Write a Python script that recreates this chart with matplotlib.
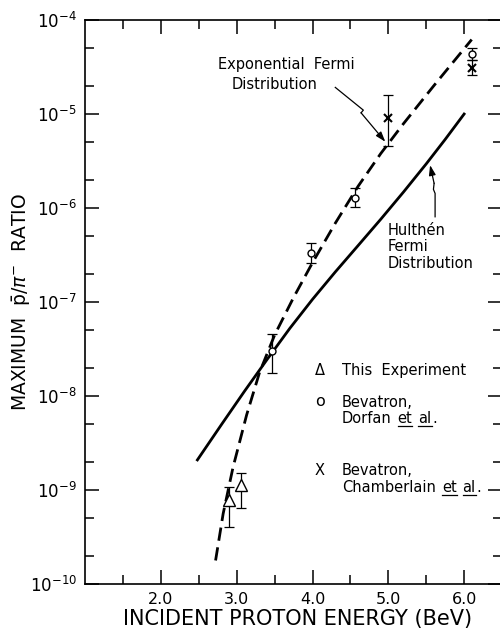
import matplotlib
matplotlib.use('Agg')
import matplotlib.pyplot as plt
from matplotlib.lines import Line2D
from matplotlib.patches import FancyArrowPatch
from matplotlib.font_manager import FontProperties
from matplotlib.ticker import LogLocator, NullFormatter

# Exponential Fermi distribution prediction (dashed)
expo_energy = [2.72, 2.82, 2.95, 3.13, 3.30, 3.50, 3.75, 4.00, 4.30, 4.60, 4.90, 5.20, 5.60, 6.10]
expo_ratio = [1.78e-10, 5.6e-10, 1.74e-9, 6.3e-9, 1.78e-8, 4.47e-8, 1.12e-7,
              2.63e-7, 6.9e-7, 1.7e-6, 3.8e-6, 7.9e-6, 2.0e-5, 6.2e-5]

# Hulthen Fermi distribution prediction (solid)
hul_energy = [2.48, 2.80, 3.10, 3.40, 3.70, 4.00, 4.30, 4.60, 4.90, 5.20, 5.50, 5.75, 6.00]
hul_ratio = [2.09e-9, 5.0e-9, 1.12e-8, 2.45e-8, 5.25e-8, 1.07e-7, 2.09e-7,
             3.98e-7, 7.6e-7, 1.48e-6, 2.95e-6, 5.37e-6, 1.0e-5]

# measured points with error bar limits
this_energy = [2.90, 3.06]
this_ratio = [7.8e-10, 1.13e-9]
this_lo = [4.0e-10, 6.4e-10]
this_hi = [1.08e-9, 1.53e-9]

dorfan_energy = [3.46, 3.98, 4.56, 6.10]
dorfan_ratio = [3.0e-8, 3.3e-7, 1.29e-6, 4.4e-5]
dorfan_lo = [1.77e-8, 2.6e-7, 1.03e-6, 3.8e-5]
dorfan_hi = [4.6e-8, 4.2e-7, 1.64e-6, 5.0e-5]

chamb_energy = [5.00, 6.10]
chamb_ratio = [9.0e-6, 3.06e-5]
chamb_lo = [4.55e-6, 2.6e-5]
chamb_hi = [1.6e-5, 3.8e-5]

xtick_vals = [2.0, 3.0, 4.0, 5.0, 6.0]
xtick_labels = ['2.0', '3.0', '4.0', '5.0', '6.0']
xminor_vals = [1.5, 2.5, 3.5, 4.5, 5.5]

plt.rcParams['font.family'] = ['DejaVu Sans']

fig = plt.figure(figsize=(5, 6.3), dpi=100)
ax = fig.add_axes([0.1705, 0.073, 0.8335, 0.8952])

ax.plot(expo_energy, expo_ratio, color='k', lw=2.0, dashes=(4.8, 2.4))
ax.plot(hul_energy, hul_ratio, color='k', lw=2.0)


def points(energy, ratio, lo, hi, marker, ms, mew):
    yerr = [[r - l for r, l in zip(ratio, lo)], [h - r for r, h in zip(ratio, hi)]]
    ax.errorbar(energy, ratio, yerr=yerr, fmt='none', ecolor='k',
                elinewidth=0.9, capsize=3.5, capthick=0.9, zorder=3)
    ax.plot(energy, ratio, linestyle='none', marker=marker, ms=ms, mfc='white',
            mec='k', mew=mew, zorder=4)


points(this_energy, this_ratio, this_lo, this_hi, '^', 8, 1.0)
points(dorfan_energy, dorfan_ratio, dorfan_lo, dorfan_hi, 'o', 5, 1.0)
points(chamb_energy, chamb_ratio, chamb_lo, chamb_hi, 'x', 5.5, 1.5)

ax.set_xlim(1.0, 6.5)
ax.set_yscale('log')
ax.set_ylim(1e-10, 1e-4)

ax.set_xticks(xtick_vals)
ax.set_xticklabels(xtick_labels)
ax.set_xticks(xminor_vals, minor=True)
ax.yaxis.set_major_locator(LogLocator(base=10, numticks=12))
ax.yaxis.set_minor_locator(LogLocator(base=10, subs=(2.0, 5.0), numticks=12))
ax.yaxis.set_minor_formatter(NullFormatter())

ax.tick_params(which='both', direction='in', top=True, right=True, width=1.1, color='k')
ax.tick_params(which='major', length=10)
ax.tick_params(which='minor', length=6.5)
ax.tick_params(axis='x', labelsize=11.5, pad=6)
ax.tick_params(axis='y', labelsize=12, pad=6)
for sp in ax.spines.values():
    sp.set_linewidth(1.2)

ax.set_xlabel('INCIDENT PROTON ENERGY (BeV)', fontsize=15)
ax.xaxis.set_label_coords(0.51, -0.045)
ax.set_ylabel(r'MAXIMUM  $\bar{\mathrm{p}}/\pi^{-}$  RATIO', fontsize=13.5)
ax.yaxis.set_label_coords(-0.125, 0.5)


def pointer(xs, ys):
    # thin leader line ending in a narrow arrowhead
    ax.plot(xs[:-1], ys[:-1], color='k', lw=0.9)
    ax.add_patch(FancyArrowPatch((xs[-2], ys[-2]), (xs[-1], ys[-1]),
                                 arrowstyle='-|>,head_length=6,head_width=2',
                                 color='k', lw=0.9, shrinkA=0, shrinkB=0))


# curve labels with their pointer arrows
ax.text(2.75, 3.4e-5, 'Exponential  Fermi', fontsize=10.5, ha='left', va='center')
ax.text(2.93, 2.08e-5, 'Distribution', fontsize=10.5, ha='left', va='center')
pointer([4.30, 4.67, 4.64, 4.96], [1.92e-5, 1.10e-5, 1.03e-5, 5.07e-6])

ax.text(4.99, 3.85e-7, 'Hulthén\nFermi\nDistribution', fontsize=10.5,
        ha='left', va='center', linespacing=1.1)
pointer([5.617, 5.617, 5.595, 5.604, 5.551], [8.07e-7, 1.43e-6, 1.58e-6, 1.83e-6, 2.86e-6])

# key to the data symbols, with underlined "et al."
renderer = fig.canvas.get_renderer()
key_size = 10.5
key_font = FontProperties(family='DejaVu Sans', size=key_size)
space = (renderer.get_text_width_height_descent('n n', key_font, ismath=False)[0]
         - renderer.get_text_width_height_descent('nn', key_font, ismath=False)[0])
to_axes = ax.transAxes.inverted()


def key_line(x, y, parts):
    x0, y0 = ax.transAxes.transform((x, y))
    for s, under, gap in parts:
        t = ax.text(*to_axes.transform((x0, y0)), s, fontsize=key_size, ha='left',
                    va='baseline', transform=ax.transAxes)
        bb = t.get_window_extent(renderer)
        if under:
            (ux0, uy), (ux1, _) = to_axes.transform([(bb.x0, y0 - 3), (bb.x1, y0 - 3)])
            ax.add_line(Line2D([ux0, ux1], [uy, uy], color='k', lw=0.9,
                               transform=ax.transAxes))
        x0 = bb.x1 + gap * space


ax.text(0.563, 0.379, 'Δ', fontsize=key_size, ha='center', va='center', transform=ax.transAxes)
ax.text(0.563, 0.323, 'o', fontsize=key_size + 1, ha='center', va='center', transform=ax.transAxes)
ax.text(0.563, 0.202, 'X', fontsize=key_size, ha='center', va='center', transform=ax.transAxes)

key_line(0.616, 0.370, [('This  Experiment', False, 0)])
key_line(0.616, 0.314, [('Bevatron,', False, 0)])
key_line(0.616, 0.285, [('Dorfan', False, 1.3), ('et', True, 1.3), ('al', True, 0.2), ('.', False, 0)])
key_line(0.616, 0.193, [('Bevatron,', False, 0)])
key_line(0.616, 0.163, [('Chamberlain', False, 1.3), ('et', True, 1.3), ('al', True, 0.2), ('.', False, 0)])

fig.savefig('out.png', dpi=100, facecolor='white')
